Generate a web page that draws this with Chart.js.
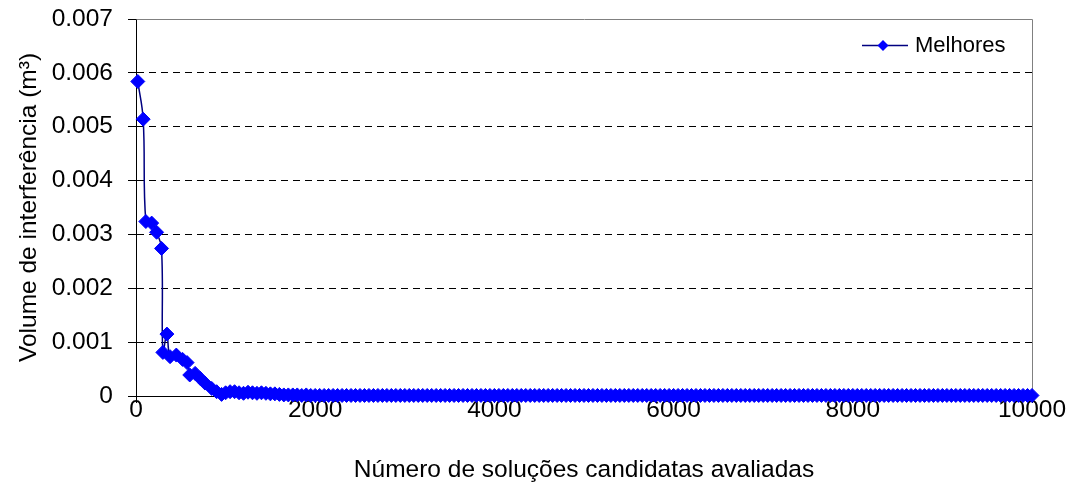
<!DOCTYPE html>
<html>
<head>
<meta charset="utf-8">
<script src="https://cdn.jsdelivr.net/npm/chart.js@4.4.0/dist/chart.umd.min.js"></script>
<style>
html,body{margin:0;padding:0;background:#fff;}
#c{display:block;}
</style>
</head>
<body>
<canvas id="c" width="1072" height="490"></canvas>
<script>
const seriesLabel = 'Melhores';
const xTitle = 'Número de soluções candidatas avaliadas';
const yTitle = 'Volume de interferência (m³)';
const xTickLabels = ['0', '2000', '4000', '6000', '8000', '10000'];
const yTickLabels = ['0', '0.001', '0.002', '0.003', '0.004', '0.005', '0.006', '0.007'];

const evaluations = [
  20, 80, 110, 175, 230, 285, 300, 345, 380, 450,
  520, 570, 600, 660, 715, 770, 845, 900, 955, 1000,
  1050, 1100,
  1150, 1200, 1250, 1300, 1350, 1400, 1450, 1500, 1550,
  1600, 1650, 1700, 1750, 1800, 1850, 1900, 1950, 2000, 2050,
  2100, 2150, 2200, 2250, 2300, 2350, 2400, 2450, 2500, 2550,
  2600, 2650, 2700, 2750, 2800, 2850, 2900, 2950, 3000, 3050,
  3100, 3150, 3200, 3250, 3300, 3350, 3400, 3450, 3500, 3550,
  3600, 3650, 3700, 3750, 3800, 3850, 3900, 3950, 4000, 4050,
  4100, 4150, 4200, 4250, 4300, 4350, 4400, 4450, 4500, 4550,
  4600, 4650, 4700, 4750, 4800, 4850, 4900, 4950, 5000, 5050,
  5100, 5150, 5200, 5250, 5300, 5350, 5400, 5450, 5500, 5550,
  5600, 5650, 5700, 5750, 5800, 5850, 5900, 5950, 6000, 6050,
  6100, 6150, 6200, 6250, 6300, 6350, 6400, 6450, 6500, 6550,
  6600, 6650, 6700, 6750, 6800, 6850, 6900, 6950, 7000, 7050,
  7100, 7150, 7200, 7250, 7300, 7350, 7400, 7450, 7500, 7550,
  7600, 7650, 7700, 7750, 7800, 7850, 7900, 7950, 8000, 8050,
  8100, 8150, 8200, 8250, 8300, 8350, 8400, 8450, 8500, 8550,
  8600, 8650, 8700, 8750, 8800, 8850, 8900, 8950, 9000, 9050,
  9100, 9150, 9200, 9250, 9300, 9350, 9400, 9450, 9500, 9550,
  9600, 9650, 9700, 9750, 9800, 9850, 9900, 9950, 10000
];

const volumes = [
  0.00584, 0.00514, 0.00324, 0.00321, 0.00304, 0.00274, 0.00081, 0.00115, 0.00073, 0.00076,
  0.00068, 0.00062, 0.00039, 0.00042, 0.00033, 0.00024, 0.00014, 0.00008, 0.00003, 0.00006,
  0.00008, 0.00008,
  0.00006, 0.00005, 0.00007, 0.00006, 0.00005, 0.00006, 0.00005, 0.00004, 0.00004,
  0.00003, 0.00002, 0.00002, 0.00002, 0.00002, 0.00001, 0.00002, 0.00001, 0.00001, 0.00001,
  0.00001, 0.00001, 0.00001, 0.00001, 0.00001, 0.00001, 0.00001, 0.00001, 0.00001, 0.00001,
  0.00001, 0.00001, 0.00001, 0.00001, 0.00001, 0.00001, 0.00001, 0.00001, 0.00001, 0.00001,
  0.00001, 0.00001, 0.00001, 0.00001, 0.00001, 0.00001, 0.00001, 0.00001, 0.00001, 0.00001,
  0.00001, 0.00001, 0.00001, 0.00001, 0.00001, 0.00001, 0.00001, 0.00001, 0.00001, 0.00001,
  0.00001, 0.00001, 0.00001, 0.00001, 0.00001, 0.00001, 0.00001, 0.00001, 0.00001, 0.00001,
  0.00001, 0.00001, 0.00001, 0.00001, 0.00001, 0.00001, 0.00001, 0.00001, 0.00001, 0.00001,
  0.00001, 0.00001, 0.00001, 0.00001, 0.00001, 0.00001, 0.00001, 0.00001, 0.00001, 0.00001,
  0.00001, 0.00001, 0.00001, 0.00001, 0.00001, 0.00001, 0.00001, 0.00001, 0.00001, 0.00001,
  0.00001, 0.00001, 0.00001, 0.00001, 0.00001, 0.00001, 0.00001, 0.00001, 0.00001, 0.00001,
  0.00001, 0.00001, 0.00001, 0.00001, 0.00001, 0.00001, 0.00001, 0.00001, 0.00001, 0.00001,
  0.00001, 0.00001, 0.00001, 0.00001, 0.00001, 0.00001, 0.00001, 0.00001, 0.00001, 0.00001,
  0.00001, 0.00001, 0.00001, 0.00001, 0.00001, 0.00001, 0.00001, 0.00001, 0.00001, 0.00001,
  0.00001, 0.00001, 0.00001, 0.00001, 0.00001, 0.00001, 0.00001, 0.00001, 0.00001, 0.00001,
  0.00001, 0.00001, 0.00001, 0.00001, 0.00001, 0.00001, 0.00001, 0.00001, 0.00001, 0.00001,
  0.00001, 0.00001, 0.00001, 0.00001, 0.00001, 0.00001, 0.00001, 0.00001, 0.00001, 0.00001,
  0.00001, 0.00001, 0.00001, 0.00001, 0.00001, 0.00001, 0.00001, 0.00001, 0.00001
];

const FONT = 'Liberation Sans, Arial, sans-serif';
const LINE_COLOR = '#000080';
const MARKER_COLOR = '#0000FF';

const points = evaluations.map((x, i) => ({ x: x, y: volumes[i] }));

const framePlugin = {
  id: 'frame',
  beforeDatasetsDraw(chart) {
    const { ctx, chartArea: a } = chart;
    ctx.save();
    ctx.strokeStyle = '#808080';
    ctx.lineWidth = 1;
    ctx.beginPath();
    ctx.moveTo(Math.round(a.left) + 0.5, Math.round(a.top) + 0.5);
    ctx.lineTo(Math.round(a.right) + 0.5, Math.round(a.top) + 0.5);
    ctx.lineTo(Math.round(a.right) + 0.5, Math.round(a.bottom) + 0.5);
    ctx.stroke();
    ctx.restore();
  }
};

const legendPlugin = {
  id: 'innerLegend',
  afterDraw(chart) {
    const { ctx, chartArea: a } = chart;
    const ds = chart.data.datasets[0];
    const x0 = a.right - 170;
    const y = a.top + 26.5;
    ctx.save();
    ctx.strokeStyle = ds.borderColor;
    ctx.lineWidth = ds.borderWidth;
    ctx.beginPath();
    ctx.moveTo(x0, y);
    ctx.lineTo(x0 + 46, y);
    ctx.stroke();
    const cx = x0 + 21, r = 5.5;
    ctx.fillStyle = ds.pointBackgroundColor;
    ctx.beginPath();
    ctx.moveTo(cx - r, y);
    ctx.lineTo(cx, y - r);
    ctx.lineTo(cx + r, y);
    ctx.lineTo(cx, y + r);
    ctx.closePath();
    ctx.fill();
    ctx.fillStyle = '#000';
    ctx.font = '22px ' + FONT;
    ctx.textBaseline = 'middle';
    ctx.textAlign = 'left';
    ctx.fillText(ds.label, x0 + 53, y + 0.5);
    ctx.restore();
  }
};

new Chart(document.getElementById('c'), {
  type: 'line',
  data: {
    datasets: [{
      label: seriesLabel,
      data: points,
      borderColor: LINE_COLOR,
      borderWidth: 1.5,
      tension: 0.4,
      fill: false,
      clip: false,
      pointStyle: 'rectRot',
      pointRadius: 7,
      pointBorderWidth: 1,
      pointBackgroundColor: MARKER_COLOR,
      pointBorderColor: MARKER_COLOR
    }]
  },
  options: {
    responsive: false,
    devicePixelRatio: 1,
    animation: false,
    layout: { padding: { left: 0, right: 40, top: 19, bottom: 0 } },
    plugins: {
      legend: { display: false },
      tooltip: { enabled: false }
    },
    scales: {
      x: {
        type: 'linear',
        min: 0,
        max: 10000,
        afterFit: s => { s.height = 94; },
        ticks: {
          stepSize: 2000,
          autoSkip: false,
          maxRotation: 0,
          padding: -7,
          color: '#000',
          font: { family: FONT, size: 24.5 },
          callback: (v, i) => xTickLabels[i]
        },
        grid: {
          drawOnChartArea: false,
          drawTicks: true,
          tickLength: 7,
          tickColor: '#000',
          color: '#000'
        },
        border: { color: '#000', width: 1 },
        title: {
          display: true,
          text: xTitle,
          color: '#000',
          font: { family: FONT, size: 24.5 },
          padding: { top: 0, bottom: 5 }
        }
      },
      y: {
        min: 0,
        max: 0.007,
        afterFit: s => { s.width = 136; s.paddingTop = 0; s.paddingBottom = 0; },
        ticks: {
          stepSize: 0.001,
          padding: 15,
          color: '#000',
          font: { family: FONT, size: 24.5 },
          callback: (v, i) => yTickLabels[i]
        },
        grid: {
          color: c => (c.tick && c.tick.value > 0.0069) ? 'rgba(0,0,0,0)' : '#000',
          lineWidth: 1,
          tickLength: 8,
          tickColor: '#000',
          tickBorderDash: []
        },
        border: { color: '#000', width: 1, dash: [7, 5] },
        title: {
          display: true,
          text: yTitle,
          color: '#000',
          font: { family: FONT, size: 24.5 },
          padding: { top: 15, bottom: 0 }
        }
      }
    }
  },
  plugins: [framePlugin, legendPlugin]
});
</script>
</body>
</html>
